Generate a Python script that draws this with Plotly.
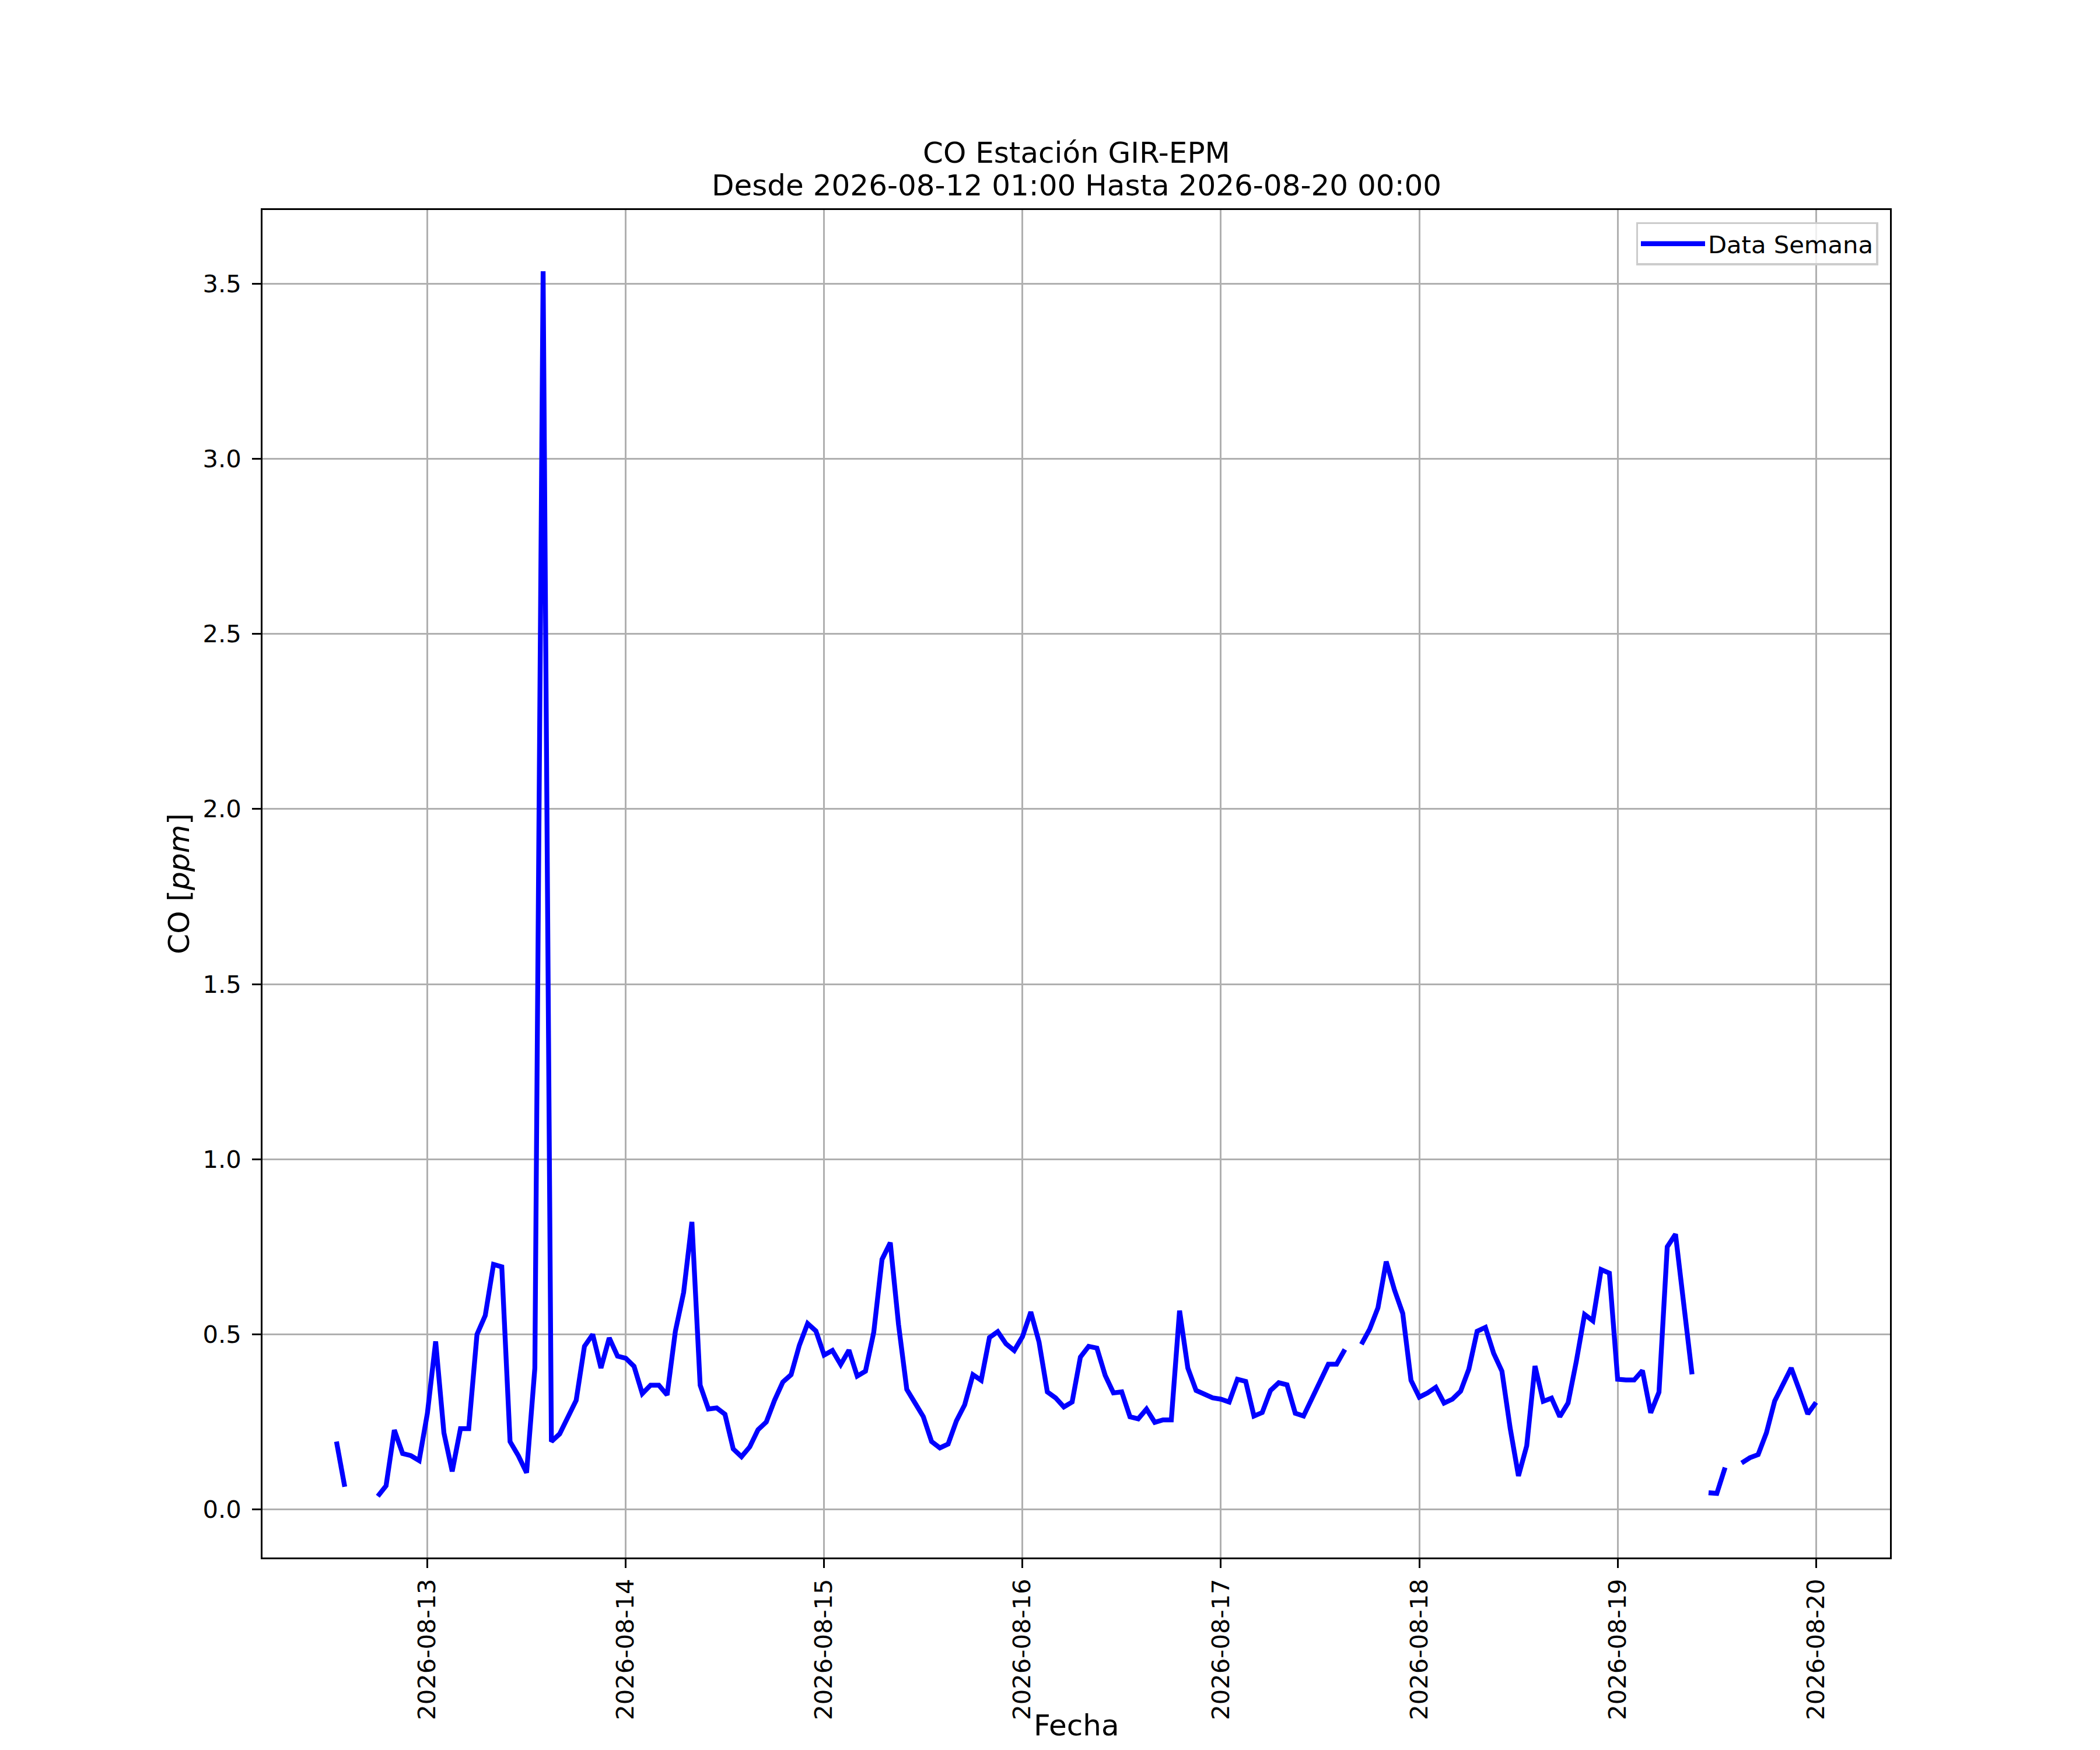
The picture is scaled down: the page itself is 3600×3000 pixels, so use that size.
import pandas as pd
import plotly.graph_objects as go

# ---- data (hourly CO, ppm) ----
start_time = "2026-08-12 01:00"
co_ppm = [
    None, None, None, None, None, None, None, None, None, None, None, None,   # 12 01:00-12:00
    0.194, 0.065, None, None, None, 0.038, 0.068, 0.227, 0.160, 0.154, 0.140,  # 12 13:00-23:00
    0.275, 0.480, 0.219, 0.109, 0.231, 0.231, 0.500, 0.554, 0.700, 0.693, 0.194, 0.154,  # 13 00-11
    0.105, 0.404, 3.535, 0.194, 0.216, 0.268, 0.312, 0.466, 0.500, 0.404, 0.490, 0.438,  # 13 12-23
    0.432, 0.409, 0.331, 0.355, 0.355, 0.327, 0.509, 0.620, 0.821, 0.355, 0.287, 0.290,  # 14 00-11
    0.272, 0.173, 0.151, 0.179, 0.228, 0.250, 0.312, 0.364, 0.385, 0.469, 0.531, 0.510,  # 14 12-23
    0.441, 0.454, 0.414, 0.455, 0.381, 0.395, 0.506, 0.714, 0.762, 0.528, 0.343, 0.304,  # 15 00-11
    0.265, 0.194, 0.176, 0.187, 0.253, 0.299, 0.385, 0.369, 0.491, 0.508, 0.473, 0.454,  # 15 12-23
    0.494, 0.564, 0.478, 0.336, 0.319, 0.293, 0.307, 0.435, 0.466, 0.461, 0.383, 0.333,  # 16 00-11
    0.336, 0.265, 0.259, 0.287, 0.249, 0.256, 0.256, 0.568, 0.404, 0.340, 0.330, 0.319,  # 16 12-23
    0.315, 0.307, 0.372, 0.366, 0.267, 0.277, 0.340, 0.362, 0.356, 0.275, 0.267, 0.315,  # 17 00-11
    0.370, 0.415, 0.415, 0.457, None, 0.472, 0.515, 0.576, 0.708, 0.627, 0.560, 0.369,   # 17 12-23
    0.321, 0.333, 0.349, 0.304, 0.315, 0.338, 0.401, 0.509, 0.520, 0.446, 0.395, 0.232,  # 18 00-11
    0.096, 0.182, 0.410, 0.309, 0.318, 0.265, 0.304, 0.423, 0.557, 0.539, 0.685, 0.675,  # 18 12-23
    0.372, 0.370, 0.370, 0.397, 0.276, 0.335, 0.750, 0.786, 0.589, 0.386, None, 0.048,   # 19 00-11
    0.046, 0.120, None, 0.133, 0.148, 0.157, 0.219, 0.310, 0.355, 0.404, 0.340, 0.273,   # 19 12-23
    0.306,                                                                             # 20 00:00
]
times = pd.date_range(start_time, periods=len(co_ppm), freq="h")

series_name = "Data Semana"
title_line1 = "CO Estación GIR-EPM"
title_line2 = "Desde 2026-08-12 01:00 Hasta 2026-08-20 00:00"
x_label = "Fecha"
y_label = "CO [<i>ppm</i>]"
y_tick_vals = [0.0, 0.5, 1.0, 1.5, 2.0, 2.5, 3.0, 3.5]

# ---- autoscale like matplotlib (5 % margins, NaNs ignored) ----
valid = [(t, v) for t, v in zip(times, co_ppm) if v is not None]
t_min, t_max = valid[0][0], valid[-1][0]
v_min = min(v for _, v in valid)
v_max = max(v for _, v in valid)
t_pad = (t_max - t_min) * 0.05
v_pad = (v_max - v_min) * 0.05
x_range = [t_min - t_pad, t_max + t_pad]
y_range = [v_min - v_pad, v_max + v_pad]

FONT = "DejaVu Sans"
TICK_FS = 41.7
LABEL_FS = 50
LW = 3.33

# page body has an 8 px default margin: shrink the figure so the plot area
# lands at the reference's absolute position (axes 450..3240 x 360..2670)
OFF = 8
W, H = 3600 - 2 * OFF, 3000 - 2 * OFF
M_L, M_T = 450 - OFF, 360 - OFF
M_R, M_B = (W + OFF) - 3240, (H + OFF) - 2670

fig = go.Figure()
fig.add_trace(go.Scatter(
    x=times, y=co_ppm, mode="lines", name=series_name,
    line=dict(color="#0000ff", width=8.3),
    connectgaps=False,
))

axis_common = dict(
    showline=True, mirror=True, linecolor="black", linewidth=LW,
    ticks="outside", ticklen=14.6, tickwidth=LW, tickcolor="black",
    showgrid=True, gridcolor="#b0b0b0", gridwidth=LW,
    zeroline=False, automargin=False,
    tickfont=dict(family=FONT, size=TICK_FS, color="black"),
)

fig.update_xaxes(
    **axis_common,
    type="date", range=x_range,
    tick0="2026-08-13", dtick=86400000, tickformat="%Y-%m-%d",
    tickangle=-90, ticklabelstandoff=2,
)
fig.update_yaxes(
    **axis_common,
    range=y_range, tickvals=y_tick_vals, tickformat=".1f",
    ticklabelstandoff=10,
    title=dict(text=y_label, font=dict(family=FONT, size=LABEL_FS, color="black"), standoff=8),
)

fig.update_layout(
    width=W, height=H,
    margin=dict(l=M_L, r=M_R, t=M_T, b=M_B, pad=0),
    paper_bgcolor="white", plot_bgcolor="white",
    font=dict(family=FONT, color="black"),
    showlegend=True,
    legend=dict(
        x=0.9927, y=0.991, xanchor="right", yanchor="top",
        xref="paper", yref="paper",
        itemwidth=110,
        bgcolor="rgba(255,255,255,0.8)", bordercolor="#cccccc", borderwidth=LW,
        font=dict(family=FONT, size=TICK_FS, color="black"),
    ),
    annotations=[
        dict(text=title_line1, xref="paper", yref="paper", x=0.5, y=1.0,
             xanchor="center", yanchor="middle", yshift=98, showarrow=False,
             font=dict(family=FONT, size=LABEL_FS, color="black")),
        dict(text=title_line2, xref="paper", yref="paper", x=0.5, y=1.0,
             xanchor="center", yanchor="middle", yshift=42, showarrow=False,
             font=dict(family=FONT, size=LABEL_FS, color="black")),
        dict(text=x_label, xref="paper", yref="paper", x=0.5, y=0.0,
             xanchor="center", yanchor="middle", yshift=-288, showarrow=False,
             font=dict(family=FONT, size=LABEL_FS, color="black")),
    ],
)

fig.write_html("out.html")
